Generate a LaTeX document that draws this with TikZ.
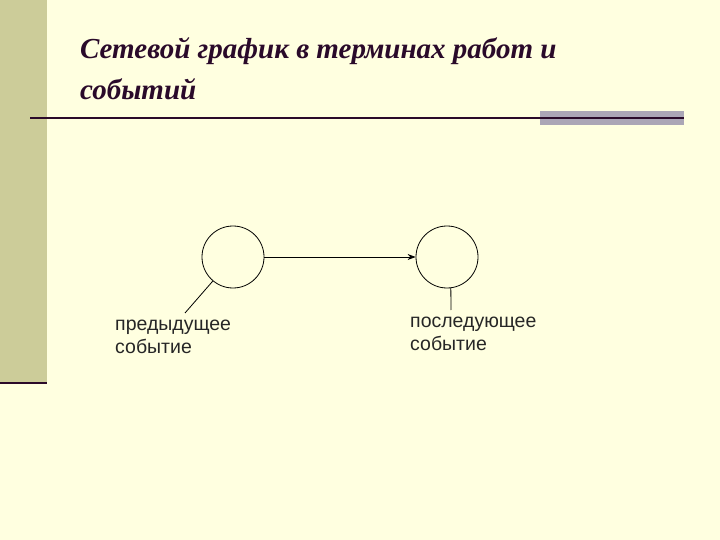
\documentclass[tikz,border=0pt]{standalone}
\usepackage{fontspec}
\setmainfont{Liberation Serif}
\newfontfamily\lsans{Liberation Sans}
\usetikzlibrary{arrows.meta}
\definecolor{bg}{HTML}{FFFFE0}
\definecolor{strip}{HTML}{CCCC99}
\definecolor{barc}{HTML}{ABA6B6}
\definecolor{dk}{HTML}{2A0A2A}
\tikzset{ev/.style={circle,draw,thick,minimum size=62pt,inner sep=0pt},
lbl/.style={font=\lsans\fontsize{19.5}{23}\selectfont,align=left,anchor=north west,inner sep=0pt,text=black!85}}
\begin{document}
\begin{tikzpicture}[x=1pt,y=-1pt]
\fill[bg] (0,0) rectangle (720,540);
\useasboundingbox (0,0) rectangle (720,540);
\fill[strip] (0,0) rectangle (47,383);
\draw[dk,line width=2.5pt] (0,383) -- (47,383);
\fill[barc] (540,111) rectangle (684,125);
\draw[dk,line width=2pt] (30,118) -- (684,118);
\node[anchor=west,font=\bfseries\itshape\fontsize{29}{34}\selectfont,text=dk,inner sep=0pt] (t1) at (80,51) {Сетевой график в терминах работ и};
\node[anchor=west,font=\bfseries\itshape\fontsize{29}{34}\selectfont,text=dk,inner sep=0pt] (t2) at (80,89) {событий};
\node[ev] (a) at (233,257) {};
\node[ev] (b) at (447,257) {};
\draw[thick,-{Stealth[length=8pt]}] (a) -- (b);
\node[lbl] (la) at (115,320) {предыдущее\\событие};
\node[lbl] (lb) at (410,317) {последующее\\событие};
\coordinate (ea) at (185,313);
\coordinate (eb) at (451,310);
\draw[thick] (a.-130) -- (ea);
\draw[thick] (b.-83) -- (eb);
\end{tikzpicture}
\end{document}
